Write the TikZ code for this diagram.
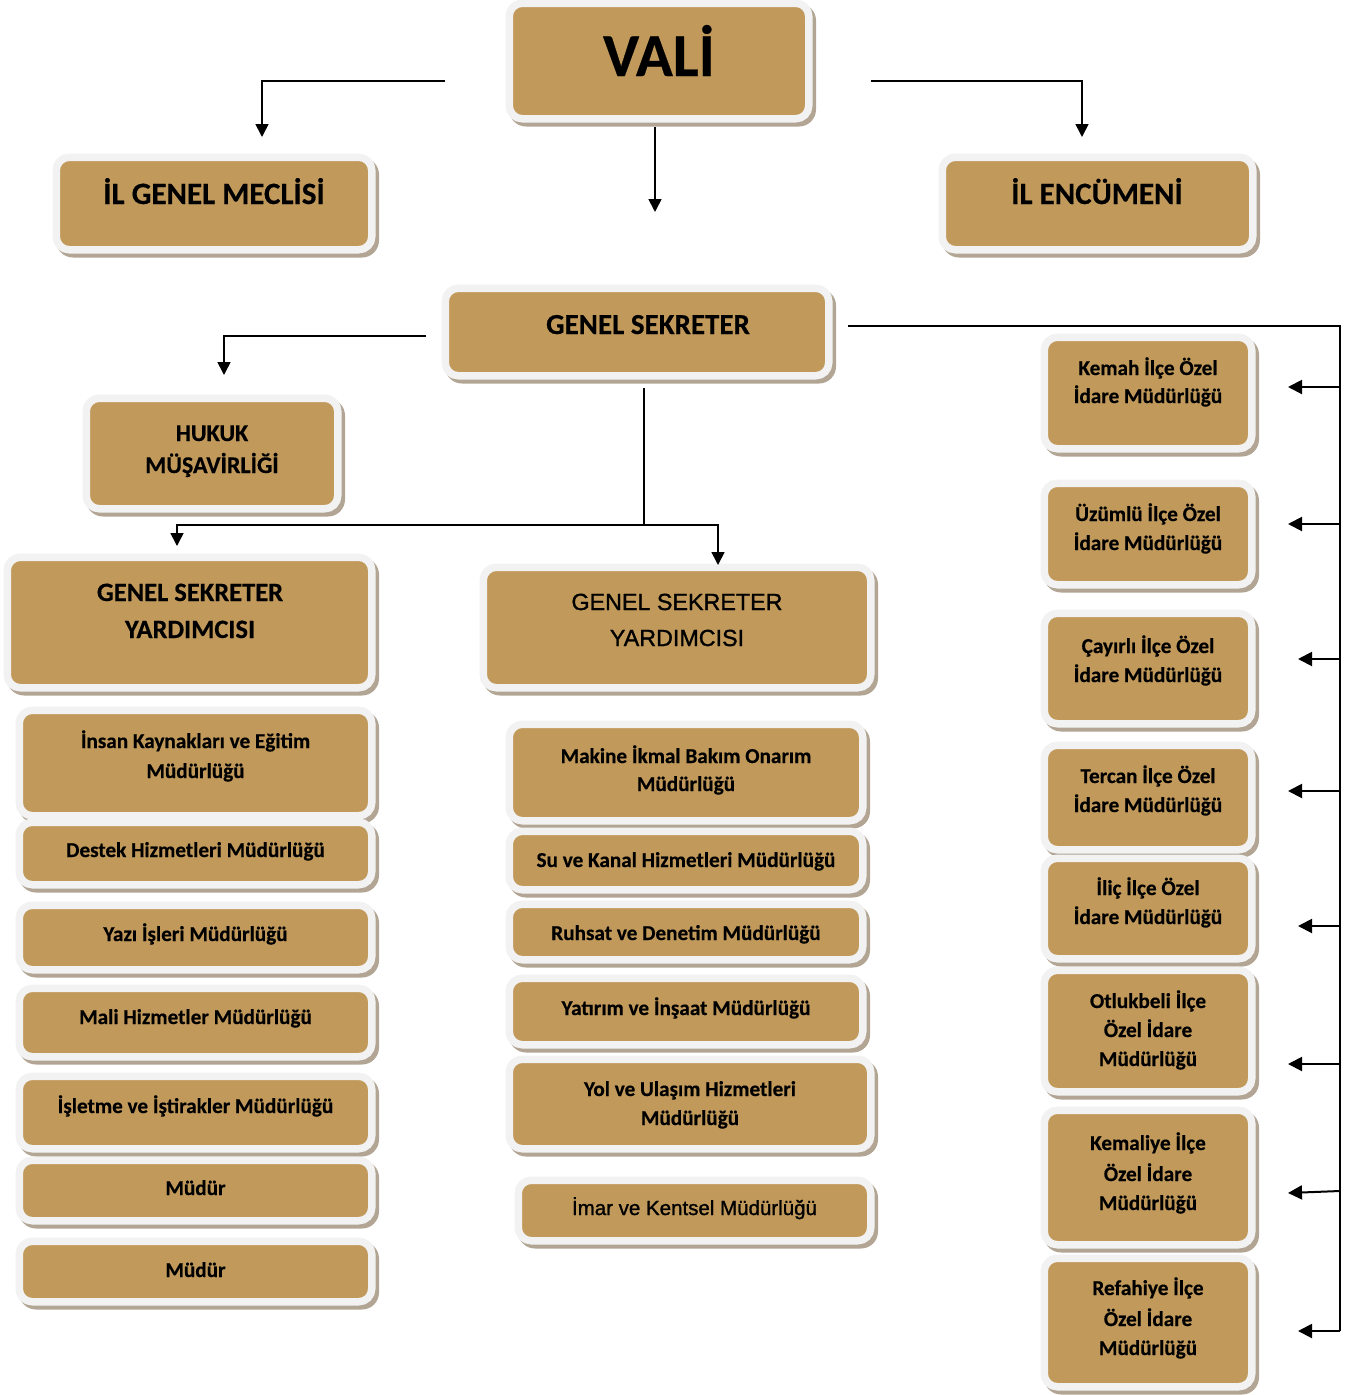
\documentclass[tikz,border=0pt]{standalone}
\usepackage{fontspec}
\setmainfont{Carlito}[BoldFeatures={FakeBold=0.4}]
\newfontfamily\arialf{Liberation Sans}[FakeBold=1.2]
\usetikzlibrary{arrows.meta}
\definecolor{boxfill}{RGB}{193,153,91}
\definecolor{borderc}{RGB}{242,242,242}
\definecolor{shadowc}{RGB}{178,165,148}
\tikzset{
  orgbox/.style={draw=borderc, line width=7.5pt, fill=boxfill, rounded corners=13pt, inner sep=0pt},
  conn/.style={line width=1.7pt, black},
  arr/.style={line width=1.7pt, black, -{Triangle[length=13pt,width=13pt]}},
  rarr/.style={line width=2pt, black, -{Triangle[length=14pt,width=14pt]}},
}
\newcommand{\obox}[5]{%
  \pgfmathsetmacro\bw{#4-#2+7.5}%
  \pgfmathsetmacro\bh{#5-#3+7.5}%
  \fill[shadowc, rounded corners=17pt] ({#2-7.5+3.5},{#3-7.5+4}) rectangle ({#4+7.5+3.5},{#5+7.5+4});
  \node[orgbox, minimum width=\bw pt, minimum height=\bh pt] (#1) at ({(#2+#4)/2},{(#3+#5)/2}) {};
}
\newcommand{\tx}[5]{\node[anchor=base, inner sep=0pt, font=\bfseries\fontsize{#4}{#4}\selectfont] (#1) at (#2,#3) {#5};}
\newcommand{\ta}[5]{\node[anchor=base, inner sep=0pt, font=\arialf\fontsize{#4}{#4}\selectfont] (#1) at (#2,#3) {#5};}
\begin{document}
\begin{tikzpicture}[x=1pt,y=-1pt]
\useasboundingbox (0,0) rectangle (1357,1395);
% top level
\obox{vali}{513}{7}{805}{115}
\tx{valit}{659}{76}{61}{VALİ}
\obox{igm}{60}{161}{368}{246}
\tx{igmt}{214}{204}{31}{İL GENEL MECLİSİ}
\obox{ile}{946}{161}{1249}{246}
\tx{ilet}{1097}{204}{31}{İL ENCÜMENİ}
\obox{gs}{449}{292}{825}{372}
\tx{gst}{648}{334}{29}{GENEL SEKRETER}
\obox{huk}{90}{402}{334}{505}
\tx{hukt1}{212}{441}{24}{HUKUK}
\tx{hukt2}{212}{473}{24}{MÜŞAVİRLİĞİ}
\obox{gsy1}{11}{561}{368}{684}
\tx{gsy1a}{190}{601}{26.5}{GENEL SEKRETER}
\tx{gsy1b}{190}{638}{26.5}{YARDIMCISI}
\obox{gsy2}{487}{571}{867}{684}
\ta{gsy2a}{677}{610}{23.3}{GENEL SEKRETER}
\ta{gsy2b}{677}{646}{23.3}{YARDIMCISI}
% left column
\obox{l1}{23}{714}{368}{812}
\tx{l1a}{195.5}{748}{21.2}{İnsan Kaynakları ve Eğitim}
\tx{l1b}{195.5}{778}{21.2}{Müdürlüğü}
\obox{l2}{23}{826}{368}{881}
\tx{l2a}{195.5}{857}{21.2}{Destek Hizmetleri Müdürlüğü}
\obox{l3}{23}{909}{368}{966}
\tx{l3a}{195.5}{941}{21.2}{Yazı İşleri Müdürlüğü}
\obox{l4}{23}{992}{368}{1053}
\tx{l4a}{195.5}{1024}{21.2}{Mali Hizmetler Müdürlüğü}
\obox{l5}{23}{1080}{368}{1145}
\tx{l5a}{195.5}{1113}{21.2}{İşletme ve İştirakler Müdürlüğü}
\obox{l6}{23}{1164}{368}{1217}
\tx{l6a}{195.5}{1195}{21.2}{Müdür}
\obox{l7}{23}{1245}{368}{1298}
\tx{l7a}{195.5}{1277}{21.2}{Müdür}
% middle column
\obox{m1}{513}{728}{859}{817}
\tx{m1a}{686}{763}{21.2}{Makine İkmal Bakım Onarım}
\tx{m1b}{686}{791}{21.2}{Müdürlüğü}
\obox{m2}{513}{835}{859}{886}
\tx{m2a}{686}{867}{21.2}{Su ve Kanal Hizmetleri Müdürlüğü}
\obox{m3}{513}{908}{859}{956}
\tx{m3a}{686}{940}{21.2}{Ruhsat ve Denetim Müdürlüğü}
\obox{m4}{513}{982}{859}{1041}
\tx{m4a}{686}{1015}{21.2}{Yatırım ve İnşaat Müdürlüğü}
\obox{m5}{513}{1063}{867}{1145}
\tx{m5a}{690}{1096}{21.2}{Yol ve Ulaşım Hizmetleri}
\tx{m5b}{690}{1125}{21.2}{Müdürlüğü}
\obox{m6}{522}{1184}{867}{1237}
\ta{m6a}{694.5}{1215}{20.5}{İmar ve Kentsel Müdürlüğü}
% right column
\obox{r1}{1048}{341}{1248}{445}
\tx{r1a}{1148}{375}{21.2}{Kemah İlçe Özel}
\tx{r1b}{1148}{403}{21.2}{İdare Müdürlüğü}
\obox{r2}{1048}{487}{1248}{581}
\tx{r2a}{1148}{521}{21.2}{Üzümlü İlçe Özel}
\tx{r2b}{1148}{550}{21.2}{İdare Müdürlüğü}
\obox{r3}{1048}{617}{1248}{720}
\tx{r3a}{1148}{653}{21.2}{Çayırlı İlçe Özel}
\tx{r3b}{1148}{682}{21.2}{İdare Müdürlüğü}
\obox{r4}{1048}{749}{1248}{846}
\tx{r4a}{1148}{783}{21.2}{Tercan İlçe Özel}
\tx{r4b}{1148}{812}{21.2}{İdare Müdürlüğü}
\obox{r5}{1048}{862}{1248}{955}
\tx{r5a}{1148}{895}{21.2}{İliç İlçe Özel}
\tx{r5b}{1148}{924}{21.2}{İdare Müdürlüğü}
\obox{r6}{1048}{974}{1248}{1088}
\tx{r6a}{1148}{1008}{21.2}{Otlukbeli İlçe}
\tx{r6b}{1148}{1037}{21.2}{Özel İdare}
\tx{r6c}{1148}{1066}{21.2}{Müdürlüğü}
\obox{r7}{1048}{1114}{1248}{1241}
\tx{r7a}{1148}{1150}{21.2}{Kemaliye İlçe}
\tx{r7b}{1148}{1181}{21.2}{Özel İdare}
\tx{r7c}{1148}{1210}{21.2}{Müdürlüğü}
\obox{r8}{1048}{1262}{1248}{1383}
\tx{r8a}{1148}{1295}{21.2}{Refahiye İlçe}
\tx{r8b}{1148}{1326}{21.2}{Özel İdare}
\tx{r8c}{1148}{1355}{21.2}{Müdürlüğü}
% connectors
\coordinate (c1) at (445,81);
\coordinate (c1e) at (262,137);
\coordinate (c2) at (871,81);
\coordinate (c2e) at (1082,137);
\coordinate (c3) at (655,127);
\coordinate (c3e) at (655,212);
\draw[arr] (c1) -| (c1e);
\draw[arr] (c2) -| (c2e);
\draw[arr] (c3) -- (c3e);
\coordinate (h1) at (426,336);
\coordinate (h1e) at (224,375);
\draw[arr] (h1) -| (h1e);
\coordinate (g1) at (644,388);
\coordinate (g2) at (644,525);
\coordinate (g3) at (177,546);
\coordinate (g4) at (718,565);
\draw[conn] (g1) -- (g2);
\draw[arr] (g2) -| (g3);
\draw[arr] (g2) -| (g4);
% right bus
\coordinate (b0) at (848,326);
\coordinate (b1) at (1340,326);
\coordinate (b2) at (1340,1331);
\draw[line width=2pt] (b0) -- (b1) -- (b2);
\draw[rarr] (1340,387) -- (1288,387);
\draw[rarr] (1340,524) -- (1288,524);
\draw[rarr] (1340,659) -- (1298,659);
\draw[rarr] (1340,791) -- (1288,791);
\draw[rarr] (1340,926) -- (1298,926);
\draw[rarr] (1340,1064) -- (1288,1064);
\draw[rarr] (1340,1191) -- (1288,1193);
\draw[rarr] (b2) -- (1298,1331);
\end{tikzpicture}
\end{document}
